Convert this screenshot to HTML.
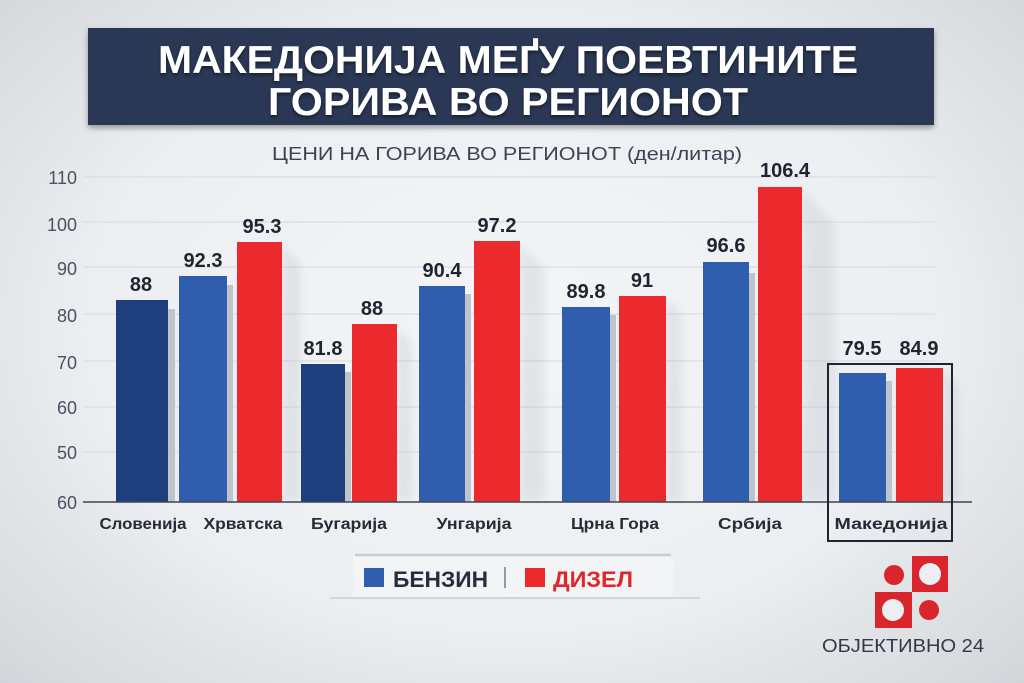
<!DOCTYPE html>
<html><head><meta charset="utf-8">
<style>
html,body{margin:0;padding:0;width:1024px;height:683px;overflow:hidden;}
body{background:radial-gradient(ellipse 75% 80% at 50% 48%, #f4f5f7 0%, #eceef1 55%, #d6d9dd 88%, #ccd0d4 100%);}
svg{position:absolute;left:0;top:0;}
</style></head>
<body>
<svg width="1024" height="683" viewBox="0 0 1024 683" xmlns="http://www.w3.org/2000/svg">
<defs>
<filter id="ds" x="-10%" y="-20%" width="120%" height="150%">
<feDropShadow dx="0" dy="3" stdDeviation="3" flood-color="#000" flood-opacity="0.35"/>
</filter>
<filter id="ts" x="-5%" y="-20%" width="110%" height="150%">
<feDropShadow dx="0" dy="2" stdDeviation="1.5" flood-color="#000" flood-opacity="0.5"/>
</filter>
<filter id="blur4"><feGaussianBlur stdDeviation="4"/></filter>
</defs>

<!-- Title box -->
<rect x="88" y="28" width="846" height="97" fill="#2b3954" filter="url(#ds)"/>
<g font-family="Liberation Sans, sans-serif" font-weight="bold" fill="#ffffff" text-anchor="middle" filter="url(#ts)">
<text x="508" y="73" font-size="39" textLength="700" lengthAdjust="spacingAndGlyphs">МАКЕДОНИЈА МЕҐУ ПОЕВТИНИТЕ</text>
<text x="508" y="115" font-size="39" textLength="480" lengthAdjust="spacingAndGlyphs">ГОРИВА ВО РЕГИОНОТ</text>
</g>

<!-- Subtitle -->
<text x="507" y="160" font-family="Liberation Sans, sans-serif" font-size="18" fill="#3c4353" text-anchor="middle" textLength="470" lengthAdjust="spacingAndGlyphs">ЦЕНИ НА ГОРИВА ВО РЕГИОНОТ (ден/литар)</text>

<!-- Gridlines -->
<g stroke="#dadde2" stroke-width="1.2">
<line x1="83" y1="177" x2="935" y2="177"/>
<line x1="83" y1="222" x2="935" y2="222"/>
<line x1="83" y1="267" x2="935" y2="267"/>
<line x1="83" y1="314" x2="935" y2="314"/>
<line x1="83" y1="361" x2="935" y2="361"/>
<line x1="83" y1="407" x2="935" y2="407"/>
<line x1="83" y1="452" x2="935" y2="452"/>
</g>

<!-- Y tick labels -->
<g font-family="Liberation Sans, sans-serif" font-size="18" fill="#4a5162" text-anchor="end">
<text x="77" y="184">110</text>
<text x="77" y="231">100</text>
<text x="77" y="275">90</text>
<text x="77" y="322">80</text>
<text x="77" y="369">70</text>
<text x="77" y="414">60</text>
<text x="77" y="459">50</text>
<text x="77" y="509">60</text>
</g>

<!-- Soft diagonal shadows -->
<g fill="#9aa0aa" opacity="0.18" filter="url(#blur4)">
<polygon points="282,245 300,262 300,500 282,500"/>
<polygon points="397,327 412,342 412,500 397,500"/>
<polygon points="520,244 545,268 545,500 520,500"/>
<polygon points="666,299 682,315 682,500 666,500"/>
<polygon points="802,190 835,225 835,500 802,500"/>
<polygon points="943,370 958,386 958,500 943,500"/>
</g>

<!-- Bar side shadows -->
<g fill="#bfc3ca">
<rect x="168" y="309" width="7" height="193"/>
<rect x="227" y="285" width="6" height="217"/>
<rect x="345" y="372" width="6" height="130"/>
<rect x="465" y="294" width="6" height="208"/>
<rect x="610" y="315" width="6" height="187"/>
<rect x="749" y="273" width="6" height="229"/>
<rect x="886" y="381" width="6" height="121"/>
</g>

<!-- Bars -->
<rect x="116" y="300" width="52" height="202" fill="#1e3f7e"/>
<rect x="179" y="276" width="48" height="226" fill="#2f5eae"/>
<rect x="237" y="242" width="45" height="260" fill="#ec2a2e"/>

<rect x="301" y="364" width="44" height="138" fill="#1e3f7e"/>
<rect x="352" y="324" width="45" height="178" fill="#ec2a2e"/>

<rect x="419" y="286" width="46" height="216" fill="#2f5eae"/>
<rect x="474" y="241" width="46" height="261" fill="#ec2a2e"/>

<rect x="562" y="307" width="48" height="195" fill="#2f5eae"/>
<rect x="619" y="296" width="47" height="206" fill="#ec2a2e"/>

<rect x="703" y="262" width="46" height="240" fill="#2f5eae"/>
<rect x="758" y="187" width="44" height="315" fill="#ec2a2e"/>

<rect x="839" y="373" width="47" height="129" fill="#2f5eae"/>
<rect x="896" y="368" width="47" height="134" fill="#ec2a2e"/>

<!-- Baseline -->
<line x1="83" y1="502" x2="972" y2="502" stroke="#3e4450" stroke-width="1.5"/>

<!-- Makedonija box -->
<rect x="828" y="364" width="124" height="177" fill="none" stroke="#1d2535" stroke-width="2"/>

<!-- Value labels -->
<g font-family="Liberation Sans, sans-serif" font-weight="bold" font-size="20" fill="#1f2430" text-anchor="middle">
<text x="141" y="291">88</text>
<text x="203" y="267">92.3</text>
<text x="262" y="233">95.3</text>
<text x="323" y="355">81.8</text>
<text x="372" y="315">88</text>
<text x="442" y="277">90.4</text>
<text x="497" y="232">97.2</text>
<text x="586" y="298">89.8</text>
<text x="642" y="287">91</text>
<text x="726" y="252">96.6</text>
<text x="785" y="177">106.4</text>
<text x="862" y="355">79.5</text>
<text x="919" y="355">84.9</text>
</g>

<!-- Category labels -->
<g font-family="Liberation Sans, sans-serif" font-weight="bold" font-size="16" fill="#262b36" text-anchor="middle">
<text x="143" y="529" textLength="87" lengthAdjust="spacingAndGlyphs">Словенија</text>
<text x="243" y="529" textLength="79" lengthAdjust="spacingAndGlyphs">Хрватска</text>
<text x="349" y="529" textLength="76" lengthAdjust="spacingAndGlyphs">Бугарија</text>
<text x="474" y="529" textLength="75" lengthAdjust="spacingAndGlyphs">Унгарија</text>
<text x="615" y="529" textLength="88" lengthAdjust="spacingAndGlyphs">Црна Гора</text>
<text x="750" y="529" textLength="64" lengthAdjust="spacingAndGlyphs">Србија</text>
<text x="891" y="529" textLength="113" lengthAdjust="spacingAndGlyphs">Македонија</text>
</g>

<!-- Legend -->
<rect x="353" y="556" width="320" height="42" fill="#f3f4f6"/>
<line x1="355" y1="555" x2="671" y2="555" stroke="#c9ccd2" stroke-width="2.5"/>
<line x1="330" y1="598" x2="700" y2="598" stroke="#d2d5da" stroke-width="2"/>
<rect x="364" y="568" width="20" height="19" fill="#2f5eae"/>
<text x="393" y="587" font-family="Liberation Sans, sans-serif" font-weight="bold" font-size="22" fill="#262e3d" textLength="95" lengthAdjust="spacingAndGlyphs">БЕНЗИН</text>
<line x1="505" y1="567" x2="505" y2="588" stroke="#555b66" stroke-width="1.2"/>
<rect x="525" y="568" width="20" height="19" fill="#ec2a2e"/>
<text x="553" y="587" font-family="Liberation Sans, sans-serif" font-weight="bold" font-size="22" fill="#e0252b" textLength="80" lengthAdjust="spacingAndGlyphs">ДИЗЕЛ</text>

<!-- Logo -->
<g fill="#d9262c">
<circle cx="894" cy="575" r="10"/>
<rect x="912" y="556" width="36" height="36"/>
<rect x="875" y="592" width="37" height="36"/>
<circle cx="929" cy="610" r="10"/>
</g>
<g fill="#eceef1">
<circle cx="930" cy="574" r="11"/>
<circle cx="893" cy="610" r="11"/>
</g>
<text x="822" y="652" font-family="Liberation Sans, sans-serif" font-size="18" fill="#333844" textLength="162" lengthAdjust="spacingAndGlyphs">ОБЈЕКТИВНО 24</text>
</svg>
</body></html>
